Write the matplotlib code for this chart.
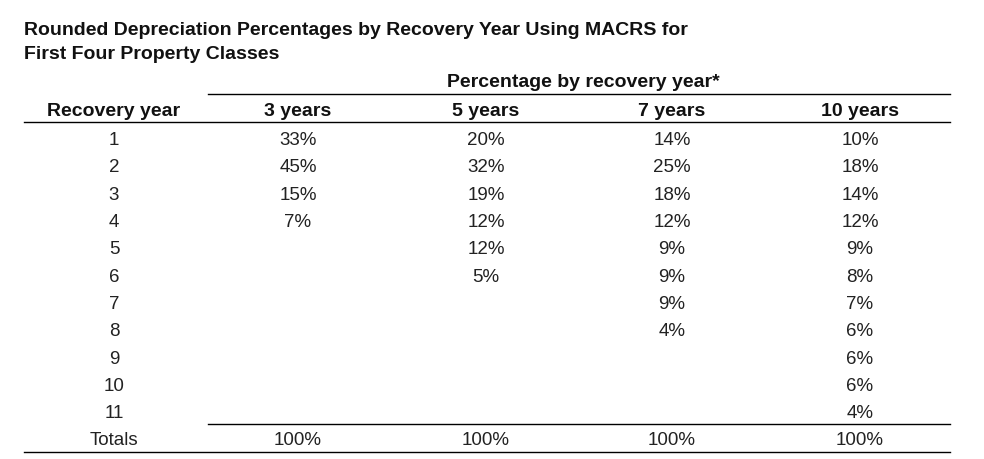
"""MACRS rounded depreciation percentages table, drawn as text on a blank axes."""

import matplotlib

matplotlib.use("Agg")
import matplotlib.pyplot as plt  # noqa: E402

plt.rcParams["font.family"] = ["Liberation Sans", "DejaVu Sans"]

TITLE_LINES = [
    "Rounded Depreciation Percentages by Recovery Year Using MACRS for",
    "First Four Property Classes",
]
GROUP_HEADER = "Percentage by recovery year*"
COLUMNS = ["Recovery year", "3 years", "5 years", "7 years", "10 years"]
RECOVERY_YEARS = ["1", "2", "3", "4", "5", "6", "7", "8", "9", "10", "11"]
PCT_3Y = [33, 45, 15, 7]
PCT_5Y = [20, 32, 19, 12, 12, 5]
PCT_7Y = [14, 25, 18, 12, 9, 9, 9, 4]
PCT_10Y = [10, 18, 14, 12, 9, 8, 7, 6, 6, 6, 4]
TOTALS = ["Totals", "100%", "100%", "100%", "100%"]

W, H = 984, 460
COL_X = [114, 298, 486, 672, 860]
ROW0_Y, ROW_STEP = 145, 27.35   # baselines
LEFT, MID, RIGHT = 24, 208, 950
HEAD_FS, BODY_FS = 14, 13.5
INK = "#222"


def main() -> None:
    fig = plt.figure(figsize=(W / 100, H / 100), dpi=100)
    ax = fig.add_axes([0, 0, 1, 1])
    ax.set_xlim(0, W)
    ax.set_ylim(H, 0)
    ax.axis("off")

    for y, line in zip([35, 59], TITLE_LINES):
        ax.text(LEFT, y, line, fontsize=HEAD_FS, weight="bold", va="baseline",
                ha="left", color="#111")
    ax.text(583, 87, GROUP_HEADER, fontsize=HEAD_FS, weight="bold",
            va="baseline", ha="center", color="#111")
    for x, label in zip(COL_X, COLUMNS):
        ax.text(x, 116, label, fontsize=HEAD_FS, weight="bold", va="baseline",
                ha="center", color="#111")

    series = [PCT_3Y, PCT_5Y, PCT_7Y, PCT_10Y]
    for i, yr in enumerate(RECOVERY_YEARS):
        y = ROW0_Y + i * ROW_STEP
        ax.text(COL_X[0], y, yr, fontsize=BODY_FS, va="baseline", ha="center", color=INK)
        for x, vals in zip(COL_X[1:], series):
            if i < len(vals):
                ax.text(x, y, f"{vals[i]}%", fontsize=BODY_FS, va="baseline",
                        ha="center", color=INK)

    for x, label in zip(COL_X, TOTALS):
        ax.text(x, 445, label, fontsize=BODY_FS, va="baseline", ha="center", color=INK)

    # rules
    ax.plot([MID, RIGHT], [95, 95], color="black", lw=1)
    ax.plot([LEFT, RIGHT], [123, 123], color="black", lw=1)
    ax.plot([MID, RIGHT], [425, 425], color="black", lw=1)
    ax.plot([LEFT, RIGHT], [453, 453], color="black", lw=1)

    fig.savefig("out.png", dpi=100, facecolor="white")


if __name__ == "__main__":
    main()
